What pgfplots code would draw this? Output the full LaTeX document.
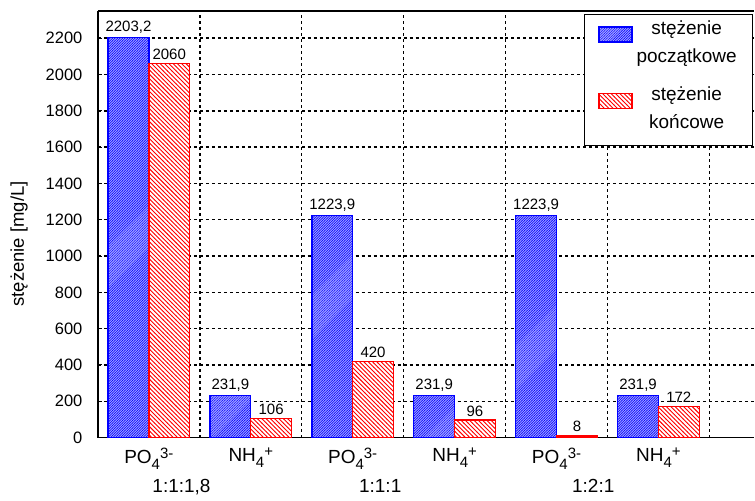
\documentclass[border=0pt]{standalone}
\usepackage{fontspec}
\setmainfont{Liberation Sans}
\usepackage{pgfplots}
\pgfplotsset{compat=1.18}
\usetikzlibrary{patterns,patterns.meta}

\pgfdeclarepattern{
  name=bluehatch,
  type=uncolored,
  bottom left={\pgfpoint{-.3pt}{-.3pt}},
  top right={\pgfpoint{2.8pt}{2.8pt}},
  tile size={\pgfpoint{2.5pt}{2.5pt}},
  code={
    \pgfsetlinewidth{0.5pt}
    \pgfpathmoveto{\pgfpoint{-.3pt}{-.3pt}}
    \pgfpathlineto{\pgfpoint{2.8pt}{2.8pt}}
    \pgfusepath{stroke}
  }
}
\pgfdeclarepattern{
  name=redhatch,
  type=uncolored,
  bottom left={\pgfpoint{-.3pt}{-.3pt}},
  top right={\pgfpoint{4.6pt}{4.6pt}},
  tile size={\pgfpoint{4.3pt}{4.3pt}},
  code={
    \pgfsetlinewidth{0.9pt}
    \pgfpathmoveto{\pgfpoint{-.3pt}{4.6pt}}
    \pgfpathlineto{\pgfpoint{4.6pt}{-.3pt}}
    \pgfusepath{stroke}
  }
}

\newcommand{\po}{PO\raisebox{-6pt}{\fontsize{15}{15}\selectfont 4}\raisebox{5pt}{\fontsize{15}{15}\selectfont 3-}}
\newcommand{\nh}{NH\raisebox{-6pt}{\fontsize{15}{15}\selectfont 4}\raisebox{5pt}{\fontsize{15}{15}\selectfont +}}

\pgfplotstableread{
x y lab
0 2203.2 2203,2
1 231.9 231,9
2 1223.9 1223,9
3 231.9 231,9
4 1223.9 1223,9
5 231.9 231,9
}\blue
\pgfplotstableread{
x y lab
0 2060 2060
1 106 106
2 420 420
3 96 96
4 8 8
5 172 172
}\red

\begin{document}
\begin{tikzpicture}
\begin{axis}[
  scale only axis,
  width=657pt, height=427pt,
  xmin=-0.5, xmax=5.94,
  ymin=0, ymax=2350,
  ybar,
  axis x line*=box,
  axis y line*=left,
  axis line style={line width=1.4pt},
  xtick={0,1,2,3,4,5},
  xticklabels={\po,\nh,\po,\nh,\po,\nh},
  x tick style={draw=none},
  minor xtick={-0.5,0.5,1.5,2.5,3.5,4.5,5.5},
  minor x tick style={black, line width=1pt},
  minor tick length=4pt,
  xminorgrids=true,
  ytick={0,200,...,2200},
  y tick style={black, line width=1pt},
  major tick length=4pt,
  ymajorgrids=true,
  grid style={black, line width=1.5pt, dash pattern=on 3pt off 3pt},
  minor grid style={black, line width=1.5pt, dash pattern=on 3pt off 3pt},
  yticklabel style={font=\fontsize{16.5}{20}\selectfont, xshift=-12pt},
  xticklabel style={font=\fontsize{19}{22}\selectfont, yshift=-3pt},
  /pgf/number format/assume math mode=true,
  /pgf/number format/1000 sep={},
  extra x ticks={0.32,2.27,4.36},
  extra x tick labels={{1:1:1,8},{1:1:1},{1:2:1}},
  extra x tick style={grid=none, major tick length=0pt, tick style={draw=none}, tick label style={yshift=-35pt}},
  ylabel={stężenie [mg/L]},
  every axis y label/.style={at={(axis description cs:-0.1202,0.454)}, rotate=90, anchor=center, font=\fontsize{18.5}{20}\selectfont},
  nodes near coords,
  point meta=explicit symbolic,
  every node near coord/.append style={font=\fontsize{15}{17}\selectfont, black},
  legend image code/.code={\draw[#1] (0pt,0pt) rectangle (33pt,15pt); \path (0pt,-33pt);},
  legend style={at={(1,1)}, anchor=north east, xshift=-1pt, yshift=-3pt,
    draw=black, line width=1pt, font=\fontsize{19}{28}\selectfont,
    align=center, row sep=9pt, inner xsep=14pt, inner ysep=4pt,
    /tikz/every odd column/.append style={column sep=2pt}},
  legend cell align=center,
]
\addplot[draw=blue, line width=1.3pt, fill=blue!35!white, bar width=0.4, bar shift=-0.2,
  postaction={pattern=bluehatch, pattern color=blue}]
  table[x=x, y=y, meta=lab] {\blue};
\addlegendentry{stężenie\\początkowe}
\addplot[draw=red, line width=1.3pt, fill=white, bar width=0.4, bar shift=0.2,
  postaction={pattern=redhatch, pattern color=red}]
  table[x=x, y=y, meta=lab] {\red};
\addlegendentry{stężenie\\końcowe}
\end{axis}
\path (current axis.south west) ++(-98pt,-63pt);
\path (current axis.north east) ++(0pt,11pt);
\end{tikzpicture}
\end{document}
